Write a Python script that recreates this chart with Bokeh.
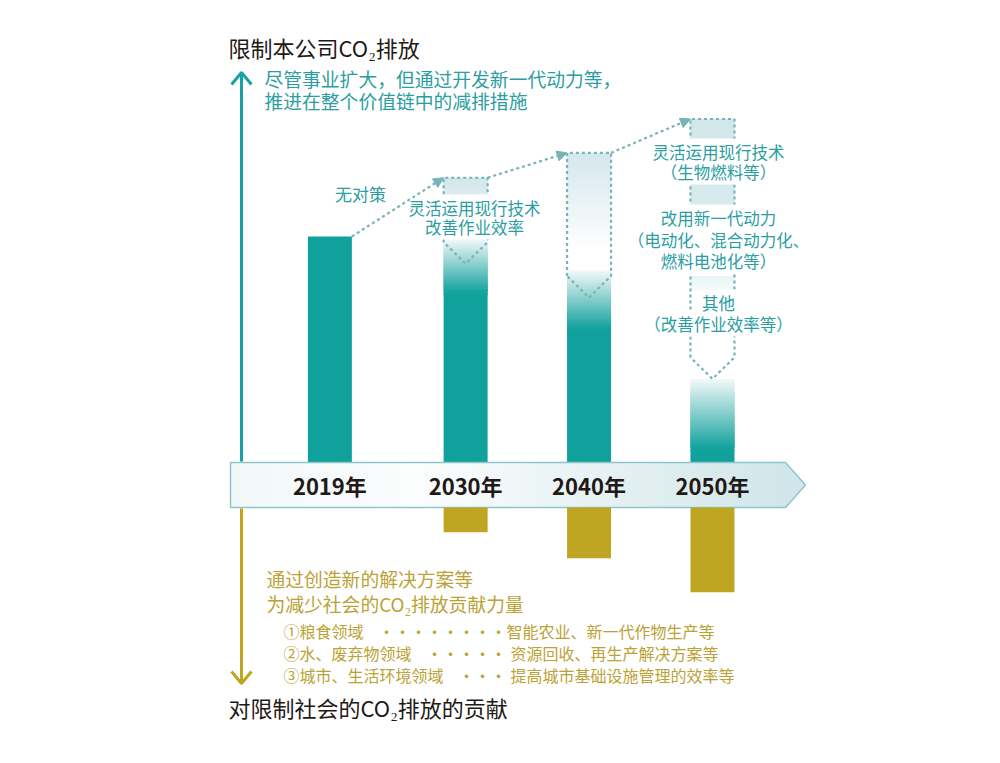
import numpy as np
from bokeh.plotting import figure
from bokeh.models import Range1d, Arrow, NormalHead
from bokeh.core.properties import value
from bokeh.embed import file_html
from bokeh.resources import INLINE

# ---------------- data ----------------
years = [2019, 2030, 2040, 2050]
year_labels = ["2019年", "2030年", "2040年", "2050年"]
no_action = [100, 126, 137, 152]        # emissions without measures (top of dashed box)
target_tip = [100, 88, 73, 37]          # tip of the reduction arrow
fade_top = [100, 99, 85, 37]            # where the fading teal part starts
residual = [100, 75, 59, 6]             # remaining emissions (solid teal)
contribution = [0, 11, 22.5, 37.5]      # contribution to society's CO2 reduction (gold)
reduction_2050 = [28.5, 41, 45.5]       # 2050 breakdown: existing tech, new power, other

title_top = "限制本公司CO₂排放"
title_bottom = "对限制社会的CO₂排放的贡献"
teal_note = ["尽管事业扩大，但通过开发新一代动力等，", "推进在整个价值链中的减排措施"]
gold_note = ["通过创造新的解决方案等", "为减少社会的CO₂排放贡献力量"]
fields = ["①粮食领域", "②水、废弃物领域", "③城市、生活环境领域"]
field_dots = ["・・・・・・・・", "・・・・・", "・・・"]
field_items = ["智能农业、新一代作物生产等", "资源回收、再生产解决方案等", "提高城市基础设施管理的效率等"]
label_none = "无对策"
label_2030 = ["灵活运用现行技术", "改善作业效率"]
label_2050 = ["灵活运用现行技术", "（生物燃料等）", "改用新一代动力",
              "（电动化、混合动力化、", "燃料电池化等）", "其他", "（改善作业效率等）"]

# ---------------- style ----------------
FONT = value("Noto Sans CJK SC")
TEAL = "#11a19d"
TEAL_TXT = "#2a9ea1"
TEAL_ARROW = "#17a1a6"
GOLD = "#bea622"
GOLD_TXT = "#bba236"
LIGHT = "#d3e7ec"
DASH = "#77b3b8"
BLACK = "#221815"
W, H = 984, 747

# scales (value units -> pixels); canvas starts at page pixel 0
PPU = 2.26
BASE = 462.0
XS = 12.342
XM_YEAR, XM_PX = 2034.75, 523.75
x0 = XM_YEAR + (0 - XM_PX) / XS
x1 = XM_YEAR + (W - XM_PX) / XS
y_top = (BASE - 0) / PPU
y_bot = -(H - BASE) / PPU
hw = 22 / XS               # half bar width in years
band_h = 45 / PPU
chev = 9.5

p = figure(width=W, height=H, x_range=Range1d(x0, x1), y_range=Range1d(y_bot, y_top),
           output_backend="svg", toolbar_location=None, min_border=0,
           x_axis_type=None, y_axis_type=None, title=None)
p.outline_line_color = None
p.background_fill_color = "white"
p.border_fill_color = "white"
p.extra_x_ranges = {"px": Range1d(0, W)}
p.extra_y_ranges = {"py": Range1d(H, 0)}


def hex2rgb(c):
    c = c.lstrip("#")
    return tuple(int(c[i:i + 2], 16) for i in (0, 2, 4))


def lerp(c0, c1, t):
    a, b = hex2rgb(c0), hex2rgb(c1)
    return "#%02x%02x%02x" % tuple(int(round(a[i] + (b[i] - a[i]) * t)) for i in range(3))


def vgrad(xc, y_lo, y_hi, c_lo, c_hi, n=60, under=0.0):
    step = (y_hi - y_lo) / n
    bottoms = [y_lo + i * step for i in range(n)]
    tops = [min(b + step * 2.5, y_hi) for b in bottoms]
    bottoms[0] -= under
    cols = [lerp(c_lo, c_hi, (i + 0.5) / n) for i in range(n)]
    p.quad(left=[xc - hw] * n, right=[xc + hw] * n, bottom=bottoms, top=tops,
           fill_color=cols, line_color=None)


# ---------------- teal bars ----------------
p.vbar(x=years[:1], top=residual[:1], bottom=0, width=2 * hw, fill_color=TEAL, line_color=None)
p.vbar(x=years[1:], top=residual[1:], bottom=0, width=2 * hw, fill_color=TEAL, line_color=None)
for i in range(1, 4):
    vgrad(years[i], residual[i], fade_top[i], TEAL, "#f4f9f9", under=min(1.0, residual[i]))

# light headers
vgrad(years[1], no_action[1] - 12, no_action[1], "#e3eff2", LIGHT, n=12)
vgrad(years[2], no_action[2] - 43, no_action[2], "#ffffff", LIGHT, n=60)
seg_top = no_action[3]
hdr = [9.3, 9.7, 6.6]
hdr_cols = [(LIGHT, LIGHT), ("#d7eaee", "#d7eaee"), ("#f6fafb", "#e9f3f5")]
for k in range(3):
    vgrad(years[3], seg_top - hdr[k], seg_top, hdr_cols[k][0], hdr_cols[k][1], n=8)
    seg_top -= reduction_2050[k]

# dashed outlines with chevrons
xs_l, ys_l = [], []
for i in range(1, 4):
    xc = years[i]
    cs = target_tip[i] + chev
    xs_l.append([xc - hw, xc - hw, xc + hw, xc + hw, xc, xc - hw])
    ys_l.append([cs, no_action[i], no_action[i], cs, target_tip[i], cs])
p.multi_line(xs=xs_l, ys=ys_l, line_color=DASH, line_width=2.2, line_dash="3 3")

# connectors
for i in range(1, 4):
    p.add_layout(Arrow(end=NormalHead(size=10, fill_color=DASH, line_color=DASH, line_width=1),
                       x_start=years[i - 1] + hw, y_start=no_action[i - 1],
                       x_end=years[i] - hw, y_end=no_action[i],
                       line_color=DASH, line_width=2.2, line_dash="3 3"))

# ---------------- timeline band ----------------
nb = 120
bx0, bx1, btip = 230.0, 785.0, 805.0
bstep = (bx1 - bx0) / nb
lefts = [bx0 + i * bstep for i in range(nb)]
rights = [min(l + bstep * 2.5, bx1) for l in lefts]
bcols = []
for l in lefts:
    t = (l + bstep / 2 - bx0) / (bx1 - bx0)
    if t < 0.33:
        bcols.append(lerp("#f1f7f8", "#fbfdfd", t / 0.33))
    else:
        bcols.append(lerp("#fbfdfd", "#d1e6ea", (t - 0.33) / 0.67))
p.quad(left=lefts, right=rights, bottom=-band_h, top=0, fill_color=bcols,
       line_color=None, x_range_name="px")
p.patch(x=[bx1 - 0.5, btip, bx1 - 0.5], y=[0, -band_h / 2, -band_h], fill_color="#d1e6ea",
        line_color=None, x_range_name="px")
p.patch(x=[bx0, bx1, btip, bx1, bx0], y=[0, 0, -band_h / 2, -band_h, -band_h],
        fill_color=None, line_color="#8fc5ca", line_width=1.5, x_range_name="px")

p.text(x=years, y=[-band_h / 2] * 4, text=year_labels, text_font=FONT,
       text_font_size="22px", text_font_style="bold", text_color=BLACK,
       text_align="center", text_baseline="middle")

# ---------------- gold bars ----------------
p.vbar(x=years[1:], top=-band_h, bottom=[-band_h - c for c in contribution[1:]],
       width=2 * hw, fill_color=GOLD, line_color=None)

# ---------------- side arrows ----------------
p.line(x=[241, 241], y=[461, 73], line_color=TEAL_ARROW, line_width=3,
       x_range_name="px", y_range_name="py")
p.line(x=[231, 241, 251], y=[84, 72, 84], line_color=TEAL_ARROW, line_width=3,
       x_range_name="px", y_range_name="py")
p.line(x=[241, 241], y=[508, 682], line_color=GOLD, line_width=3,
       x_range_name="px", y_range_name="py")
p.line(x=[231, 241, 251], y=[671, 683, 671], line_color=GOLD, line_width=3,
       x_range_name="px", y_range_name="py")

# ---------------- texts ----------------
def txt(x, y, t, size, color, align="left", bg=None):
    kw = dict(x_range_name="px", y_range_name="py", text_font=FONT,
              text_font_size=size, text_align=align, text_baseline="middle")
    if bg:
        # white boxes first (hidden text), then the visible text on top
        p.text(x=x, y=y, text=t, text_color=color, text_alpha=0,
               background_fill_color=bg, padding=1, **kw)
    p.text(x=x, y=y, text=t, text_color=color, **kw)


txt([228], [46], [title_top], "22px", BLACK)
txt([228], [706], [title_bottom], "22px", BLACK)
txt([264, 264], [78, 100], teal_note, "18.8px", TEAL_TXT)
txt([266, 266], [578, 603], gold_note, "18.8px", GOLD_TXT)
txt([283, 283, 283], [630, 652, 674], fields, "16px", GOLD_TXT)
txt([378, 426, 458], [630, 652, 674], field_dots, "16px", GOLD_TXT)
txt([506, 510, 510], [630, 652, 674], field_items, "16px", GOLD_TXT)
txt([360], [193], [label_none], "17px", TEAL_TXT, align="center")
txt([474, 474], [207, 226], label_2030, "16.5px", TEAL_TXT, align="center", bg="white")
txt([718] * 7, [151, 171, 217, 239, 260, 302, 323], label_2050, "16.5px", TEAL_TXT,
    align="center", bg="white")

open("out.html", "w").write(file_html(p, INLINE, title="CO2"))
